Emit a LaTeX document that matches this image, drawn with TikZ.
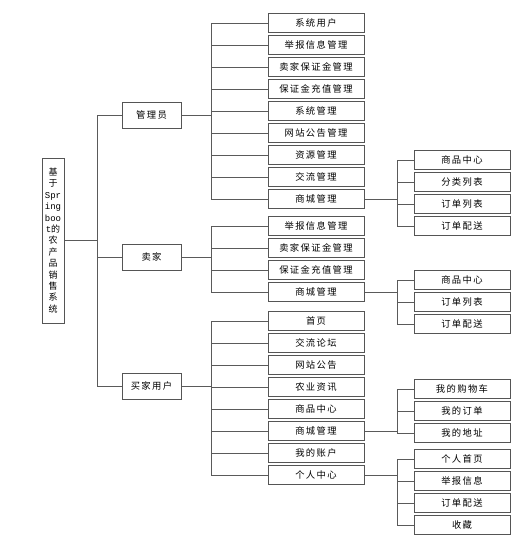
\documentclass[tikz,border=0pt]{standalone}
\usepackage{fontspec}
\newfontfamily\cjk[LetterSpace=15]{Noto Sans CJK SC}
\newfontfamily\rootfont{Liberation Mono}
\definecolor{boxgray}{RGB}{85,85,85}
\definecolor{linegray}{RGB}{90,90,90}

\begin{document}
\begin{tikzpicture}[
  x=1pt, y=-1pt,
  menu/.style={
    draw=boxgray,
    line width=1pt,
    fill=white,
    minimum width=96pt,
    minimum height=19pt,
    inner sep=0pt,
    font=\cjk\fontsize{9.3}{10}\selectfont
  },
  role/.style={
    menu,
    minimum width=59pt,
    minimum height=26pt
  },
  link/.style={
    draw=linegray,
    line width=0.9pt
  }
]
\useasboundingbox (0,0) rectangle (530,549);
\def\menux{316}
\def\itemx{462}

% root and roles
\node[menu, minimum width=22pt, minimum height=165pt, align=center,
  font=\cjk\fontsize{9}{11.4}\selectfont] (root) at (53,240.5)
  {基\\于\\{\rootfont Spr}\\{\rootfont ing}\\{\rootfont boo}\\{\rootfont t}的\\农\\产\\品\\销\\售\\系\\统};
\node[role] (admin) at (151.5,115) {管理员};
\node[role] (seller) at (151.5,257) {卖家};
\node[role] (buyer) at (151.5,386) {买家用户};

% admin menu
\foreach \t [count=\i] in {系统用户,举报信息管理,卖家保证金管理,保证金充值管理,系统管理,网站公告管理,资源管理,交流管理,商城管理} {
  \node[menu] (A-\i) at (\menux,1+22*\i) {\t};
}
\foreach \t [count=\i] in {商品中心,分类列表,订单列表,订单配送} {
  \node[menu] (AM-\i) at (\itemx,138+22*\i) {\t};
}

% seller menu
\foreach \t [count=\i] in {举报信息管理,卖家保证金管理,保证金充值管理,商城管理} {
  \node[menu] (S-\i) at (\menux,204+22*\i) {\t};
}
\foreach \t [count=\i] in {商品中心,订单列表,订单配送} {
  \node[menu] (SM-\i) at (\itemx,258+22*\i) {\t};
}

% buyer menu
\foreach \t [count=\i] in {首页,交流论坛,网站公告,农业资讯,商品中心,商城管理,我的账户,个人中心} {
  \node[menu] (B-\i) at (\menux,299+22*\i) {\t};
}
\foreach \t [count=\i] in {我的购物车,我的订单,我的地址} {
  \node[menu] (BM-\i) at (\itemx,367+22*\i) {\t};
}
\foreach \t [count=\i] in {个人首页,举报信息,订单配送,收藏} {
  \node[menu] (BP-\i) at (\itemx,437+22*\i) {\t};
}

% connectors
\foreach \n in {admin,seller,buyer} {
  \draw[link] (root.east) -- ++(33,0) |- (\n.west);
}
\foreach \i in {1,...,9} {
  \draw[link] (admin.east) -- ++(30,0) |- (A-\i.west);
}
\foreach \i in {1,...,4} {
  \draw[link] (seller.east) -- ++(30,0) |- (S-\i.west);
  \draw[link] (A-9.east) -- ++(33,0) |- (AM-\i.west);
  \draw[link] (B-8.east) -- ++(33,0) |- (BP-\i.west);
}
\foreach \i in {1,...,8} {
  \draw[link] (buyer.east) -- ++(30,0) |- (B-\i.west);
}
\foreach \i in {1,...,3} {
  \draw[link] (S-4.east) -- ++(33,0) |- (SM-\i.west);
  \draw[link] (B-6.east) -- ++(33,0) |- (BM-\i.west);
}
\end{tikzpicture}
\end{document}
